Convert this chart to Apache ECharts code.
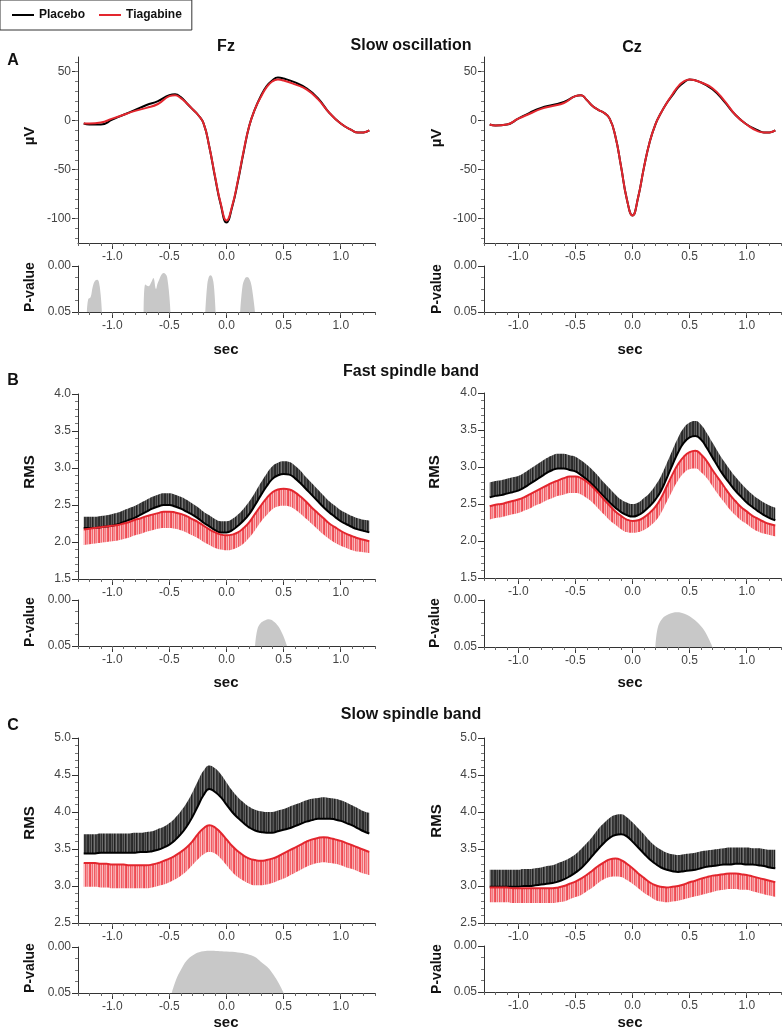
<!DOCTYPE html>
<html>
<head>
<meta charset="utf-8">
<script src="https://cdn.jsdelivr.net/npm/echarts@6/dist/echarts.min.js"></script>
<style>
html,body{margin:0;padding:0;background:#fff}
#chart{width:784px;height:1031px}
</style>
</head>
<body>
<div id="chart"></div>
<script>
// time axis (sec)
var xsSO = [-1.25,-1.2,-1.1,-1.0,-0.9,-0.8,-0.7,-0.6,-0.5,-0.45,-0.4,-0.35,-0.3,-0.25,-0.2,-0.15,-0.1,-0.05,0,0.05,0.1,0.15,0.2,0.25,0.3,0.35,0.4,0.45,0.5,0.6,0.7,0.8,0.9,1.0,1.1,1.15,1.2,1.25];
var xsRms = [-1.25,-1.2,-1.15,-1.1,-1.05,-1.0,-0.95,-0.9,-0.85,-0.8,
             -0.75,-0.7,-0.65,-0.6,-0.55,-0.5,-0.45,-0.4,-0.35,-0.3,
             -0.25,-0.2,-0.15,-0.1,-0.05,0,0.05,0.1,0.15,0.2,
             0.25,0.3,0.35,0.4,0.45,0.5,0.55,0.6,0.65,0.7,
             0.75,0.8,0.85,0.9,0.95,1.0,1.05,1.1,1.15,1.2,
             1.25];

// A: slow oscillation (uV)
var soFzPlacebo = [-3,-4,-4,1,6,11,16,20,26,27,24,18,12,6,-3,-27,-58,-86,-104,-88,-62,-32,-5,12,25,35,41,44,43,39,33,23,8,-3,-10,-12,-12,-10];
var soFzTiag    = [-3,-3,-2,2,6,10,13,17,25,26,23,18,12,6,-3,-27,-57,-85,-102,-87,-61,-31,-5,12,24,34,40,42,41,37,32,22,8,-3,-10,-12,-12,-10];
var soCzPlacebo = [-4,-5,-4,2,8,13,16,19,25,26,21,15,11,8,2,-16,-47,-80,-97,-78,-48,-22,-4,8,18,26,34,39,42,39,32,20,6,-4,-10,-12,-12,-10];
var soCzTiag    = [-4,-5,-4,2,7,12,15,18,25,26,21,15,11,8,2,-16,-47,-80,-97,-78,-48,-22,-4,8,18,27,35,40,42,39,33,21,6,-4,-11,-12,-12,-10];

// B: fast spindle RMS (mean, placebo upper SEM, tiagabine lower SEM)
var fsFzPlacebo = [2.19,2.19,2.19,2.20,2.21,2.22,2.24,2.27,2.30,2.33,
                   2.37,2.41,2.45,2.48,2.50,2.50,2.48,2.45,2.41,2.37,
                   2.32,2.26,2.21,2.16,2.13,2.13,2.16,2.22,2.29,2.38,
                   2.50,2.63,2.75,2.85,2.90,2.92,2.91,2.86,2.79,2.71,
                   2.63,2.55,2.47,2.40,2.34,2.28,2.24,2.20,2.17,2.15,
                   2.13];
var fsFzPlaceboHi = [2.34,2.34,2.34,2.35,2.36,2.38,2.40,2.43,2.46,2.49,
                     2.53,2.57,2.61,2.64,2.66,2.66,2.64,2.61,2.57,2.52,
                     2.47,2.41,2.36,2.31,2.28,2.28,2.31,2.37,2.45,2.55,
                     2.67,2.80,2.92,3.02,3.07,3.09,3.08,3.03,2.96,2.87,
                     2.79,2.71,2.63,2.55,2.49,2.43,2.39,2.35,2.32,2.30,
                     2.29];
var fsFzTiag = [2.17,2.18,2.19,2.20,2.21,2.22,2.23,2.25,2.27,2.30,
                2.32,2.35,2.37,2.39,2.41,2.41,2.40,2.38,2.35,2.31,
                2.27,2.22,2.17,2.13,2.10,2.09,2.10,2.13,2.19,2.27,
                2.38,2.49,2.59,2.67,2.71,2.72,2.71,2.67,2.61,2.54,
                2.46,2.39,2.32,2.25,2.20,2.15,2.11,2.08,2.05,2.03,
                2.01];
var fsFzTiagLo = [1.96,1.97,1.98,1.99,2.00,2.01,2.02,2.04,2.06,2.09,
                  2.11,2.14,2.16,2.18,2.19,2.19,2.18,2.16,2.13,2.09,
                  2.05,2.00,1.96,1.92,1.90,1.89,1.90,1.93,1.98,2.06,
                  2.16,2.27,2.36,2.44,2.48,2.49,2.48,2.44,2.38,2.31,
                  2.24,2.17,2.10,2.04,1.99,1.95,1.92,1.89,1.87,1.86,
                  1.85];
var fsCzPlacebo = [2.59,2.61,2.62,2.64,2.66,2.68,2.72,2.77,2.82,2.87,
                   2.92,2.96,2.98,2.98,2.96,2.94,2.89,2.83,2.76,2.68,
                   2.60,2.52,2.45,2.39,2.35,2.33,2.35,2.40,2.47,2.56,
                   2.68,2.85,3.03,3.20,3.33,3.40,3.42,3.37,3.26,3.13,
                   3.00,2.88,2.78,2.68,2.60,2.52,2.46,2.40,2.35,2.31,
                   2.28];
var fsCzPlaceboHi = [2.79,2.81,2.82,2.84,2.86,2.88,2.92,2.97,3.02,3.07,
                     3.12,3.16,3.18,3.18,3.16,3.14,3.09,3.03,2.96,2.88,
                     2.79,2.71,2.63,2.56,2.52,2.50,2.52,2.58,2.65,2.75,
                     2.88,3.05,3.23,3.40,3.53,3.60,3.62,3.57,3.46,3.33,
                     3.20,3.08,2.97,2.87,2.78,2.70,2.63,2.57,2.52,2.48,
                     2.45];
var fsCzTiag = [2.47,2.49,2.50,2.52,2.54,2.56,2.59,2.63,2.67,2.71,
                2.75,2.79,2.82,2.85,2.87,2.87,2.85,2.80,2.73,2.65,
                2.56,2.48,2.40,2.34,2.29,2.27,2.28,2.32,2.38,2.46,
                2.58,2.74,2.90,3.04,3.14,3.20,3.22,3.17,3.08,2.96,
                2.85,2.74,2.63,2.54,2.46,2.40,2.34,2.30,2.26,2.23,
                2.21];
var fsCzTiagLo = [2.29,2.31,2.32,2.34,2.36,2.38,2.41,2.44,2.48,2.51,
                  2.55,2.58,2.61,2.63,2.65,2.65,2.63,2.58,2.52,2.44,
                  2.36,2.28,2.22,2.16,2.12,2.11,2.12,2.15,2.20,2.27,
                  2.38,2.53,2.68,2.82,2.92,2.97,2.98,2.93,2.85,2.74,
                  2.63,2.53,2.43,2.35,2.28,2.23,2.17,2.13,2.10,2.08,
                  2.06];

// C: slow spindle RMS
var ssFzPlacebo = [3.44,3.44,3.44,3.45,3.45,3.45,3.45,3.45,3.45,3.45,
                   3.46,3.46,3.47,3.49,3.52,3.56,3.62,3.70,3.80,3.93,
                   4.08,4.23,4.31,4.27,4.20,4.10,4.00,3.92,3.85,3.79,
                   3.75,3.73,3.72,3.72,3.74,3.76,3.78,3.81,3.84,3.87,
                   3.89,3.91,3.91,3.91,3.90,3.88,3.85,3.82,3.78,3.74,
                   3.71];
var ssFzPlaceboHi = [3.70,3.70,3.70,3.71,3.71,3.71,3.71,3.71,3.71,3.72,
                     3.72,3.73,3.74,3.77,3.80,3.85,3.92,4.01,4.12,4.26,
                     4.42,4.56,4.63,4.59,4.51,4.40,4.29,4.20,4.13,4.07,
                     4.03,4.01,4.00,4.00,4.02,4.04,4.07,4.10,4.13,4.16,
                     4.18,4.19,4.20,4.19,4.18,4.16,4.13,4.09,4.05,4.01,
                     3.99];
var ssFzTiag = [3.31,3.31,3.31,3.30,3.30,3.29,3.29,3.29,3.28,3.28,
                3.28,3.28,3.29,3.31,3.34,3.37,3.41,3.46,3.52,3.60,
                3.70,3.78,3.82,3.79,3.72,3.63,3.54,3.47,3.41,3.37,
                3.35,3.34,3.35,3.37,3.40,3.44,3.48,3.52,3.56,3.60,
                3.63,3.65,3.66,3.65,3.63,3.61,3.58,3.55,3.52,3.49,
                3.46];
var ssFzTiagLo = [2.99,2.99,2.99,2.98,2.98,2.97,2.97,2.97,2.97,2.97,
                  2.97,2.97,2.98,3.00,3.02,3.05,3.09,3.14,3.20,3.28,
                  3.36,3.43,3.46,3.44,3.37,3.28,3.19,3.12,3.07,3.03,
                  3.01,3.01,3.02,3.04,3.07,3.10,3.14,3.18,3.22,3.26,
                  3.29,3.31,3.32,3.31,3.30,3.28,3.25,3.23,3.20,3.17,
                  3.15];
var ssCzPlacebo = [2.99,2.99,2.99,2.99,2.99,2.99,3.00,3.00,3.01,3.02,
                   3.03,3.04,3.06,3.09,3.13,3.18,3.24,3.32,3.41,3.50,
                   3.58,3.65,3.69,3.70,3.67,3.60,3.52,3.44,3.36,3.30,
                   3.25,3.22,3.20,3.19,3.20,3.21,3.22,3.24,3.26,3.27,
                   3.28,3.29,3.29,3.30,3.30,3.29,3.29,3.28,3.27,3.25,
                   3.24];
var ssCzPlaceboHi = [3.22,3.22,3.22,3.22,3.22,3.22,3.23,3.23,3.24,3.25,
                     3.27,3.28,3.31,3.34,3.38,3.43,3.50,3.58,3.67,3.77,
                     3.85,3.92,3.96,3.97,3.93,3.86,3.78,3.70,3.61,3.54,
                     3.49,3.45,3.43,3.42,3.43,3.44,3.45,3.47,3.48,3.49,
                     3.50,3.51,3.52,3.52,3.52,3.52,3.51,3.51,3.50,3.49,
                     3.49];
var ssCzTiag = [2.98,2.98,2.98,2.98,2.97,2.97,2.97,2.97,2.97,2.97,
                2.97,2.97,2.98,3.00,3.03,3.06,3.10,3.15,3.21,3.27,
                3.32,3.36,3.37,3.35,3.30,3.24,3.17,3.11,3.05,3.01,
                2.99,2.98,2.99,3.00,3.02,3.05,3.07,3.10,3.12,3.14,
                3.15,3.16,3.17,3.17,3.16,3.15,3.13,3.11,3.09,3.07,
                3.05];
var ssCzTiagLo = [2.78,2.78,2.78,2.78,2.77,2.77,2.77,2.77,2.77,2.77,
                  2.77,2.77,2.78,2.79,2.82,2.85,2.88,2.93,2.98,3.04,
                  3.09,3.12,3.13,3.12,3.08,3.03,2.97,2.91,2.86,2.81,
                  2.79,2.78,2.79,2.80,2.82,2.84,2.86,2.88,2.90,2.92,
                  2.94,2.95,2.96,2.96,2.95,2.95,2.93,2.91,2.89,2.87,
                  2.85];

// p-value clusters, [sec, p]
var pSoFz = [
  [[-1.222,0.05],[-1.21,0.036],[-1.19,0.034],[-1.17,0.022],[-1.15,0.016],[-1.13,0.015],[-1.11,0.022],[-1.09,0.05]],
  [[-0.725,0.05],[-0.711,0.02],[-0.682,0.022],[-0.66,0.018],[-0.64,0.013],[-0.617,0.025],[-0.6,0.018],[-0.55,0.0076],[-0.52,0.012],[-0.49,0.05]],
  [[-0.185,0.05],[-0.17,0.022],[-0.155,0.012],[-0.14,0.01],[-0.125,0.012],[-0.11,0.022],[-0.095,0.05]],
  [[0.12,0.05],[0.14,0.022],[0.16,0.014],[0.18,0.012],[0.2,0.014],[0.22,0.022],[0.25,0.05]]
];
var pSoCz = [];
var pFsFz = [
  [[0.25,0.05],[0.27,0.032],[0.3,0.025],[0.34,0.022],[0.37,0.021],[0.41,0.023],[0.45,0.028],[0.49,0.037],[0.53,0.05]]
];
var pFsCz = [
  [[0.2,0.05],[0.22,0.03],[0.26,0.02],[0.32,0.015],[0.39,0.013],[0.46,0.015],[0.53,0.02],[0.6,0.028],[0.65,0.037],[0.7,0.05]]
];
var pSsFz = [
  [[-0.48,0.05],[-0.44,0.035],[-0.4,0.025],[-0.35,0.015],[-0.29,0.0087],[-0.22,0.005],[-0.15,0.004],[0,0.005],[0.1,0.006],[0.18,0.0076],[0.25,0.011],[0.3,0.016],[0.36,0.022],[0.41,0.03],[0.46,0.04],[0.5,0.05]]
];
var pSsCz = [];

// ticks
var xMajorTicks = [-1.0,-0.5,0,0.5,1.0];
var xMinorTicks = [-1.3,-1.2,-1.1,-1.0,-0.9,-0.8,-0.7,-0.6,-0.5,-0.4,-0.3,-0.2,-0.1,0,0.1,0.2,0.3,0.4,0.5,0.6,0.7,0.8,0.9,1.0,1.1,1.2,1.3];
var soMajorTicks = [-100,-50,0,50];
var soMinorTicks = [-120,-110,-100,-90,-80,-70,-60,-50,-40,-30,-20,-10,0,10,20,30,40,50,60];
var fsMajorTicks = [1.5,2.0,2.5,3.0,3.5,4.0];
var fsMinorTicks = [1.6,1.7,1.8,1.9,2.1,2.2,2.3,2.4,2.6,2.7,2.8,2.9,3.1,3.2,3.3,3.4,3.6,3.7,3.8,3.9];
var ssMajorTicks = [2.5,3.0,3.5,4.0,4.5,5.0];
var ssMinorTicks = [2.6,2.7,2.8,2.9,3.1,3.2,3.3,3.4,3.6,3.7,3.8,3.9,4.1,4.2,4.3,4.4,4.6,4.7,4.8,4.9];
var pMajorTicks = [0,0.05];
var pMinorTicks = [0.0125,0.025,0.0375];

var FONT = "'Liberation Sans',Arial,sans-serif";

function stripes(cols) {
    var c = document.createElement('canvas');
    c.width = cols.length; c.height = 4;
    var g = c.getContext('2d');
    cols.forEach(function (col, i) { g.fillStyle = col; g.fillRect(i, 0, 1, 4); });
    return c;
}
var blackFill = {image: stripes(['#2a2a2a','#5a5a5a','#333','#6a6a6a','#222','#4a4a4a','#777','#333','#3c3c3c','#555','#2e2e2e']), repeat: 'repeat'};
var redFill = {image: stripes(['#ee4a52','#f8a8ac','#f26a71','#fbc0c3','#ef5a61','#f79298','#f47c82','#f9b4b8','#f0585f']), repeat: 'repeat'};

var panels = [
    {left:78,  top:57,  h:186, pTop:266, pH:46, kind:'so', xs:xsSO, plc:soFzPlacebo, tia:soFzTiag, pv:pSoFz},
    {left:484, top:57,  h:186, pTop:266, pH:46, kind:'so', xs:xsSO, plc:soCzPlacebo, tia:soCzTiag, pv:pSoCz},
    {left:78,  top:394, h:185, pTop:600, pH:46, kind:'fs', xs:xsRms, plc:fsFzPlacebo, hi:fsFzPlaceboHi, tia:fsFzTiag, lo:fsFzTiagLo, pv:pFsFz},
    {left:484, top:393, h:185, pTop:600, pH:47, kind:'fs', xs:xsRms, plc:fsCzPlacebo, hi:fsCzPlaceboHi, tia:fsCzTiag, lo:fsCzTiagLo, pv:pFsCz},
    {left:78,  top:738, h:185, pTop:947, pH:46, kind:'ss', xs:xsRms, plc:ssFzPlacebo, hi:ssFzPlaceboHi, tia:ssFzTiag, lo:ssFzTiagLo, pv:pSsFz},
    {left:484, top:738, h:185, pTop:946, pH:46, kind:'ss', xs:xsRms, plc:ssCzPlacebo, hi:ssCzPlaceboHi, tia:ssCzTiag, lo:ssCzTiagLo, pv:pSsCz}
];

var yRange = {
    so: {min:-125, max:65, major:soMajorTicks, minor:soMinorTicks, fmt:function (v) { return String(v); }},
    fs: {min:1.5, max:4.0, major:fsMajorTicks, minor:fsMinorTicks, fmt:function (v) { return v.toFixed(1); }},
    ss: {min:2.5, max:5.0, major:ssMajorTicks, minor:ssMinorTicks, fmt:function (v) { return v.toFixed(1); }},
    p:  {min:0, max:0.05, major:pMajorTicks, minor:pMinorTicks, fmt:function (v) { return v.toFixed(2); }, inverse:true}
};

var grids = [], xAxes = [], yAxes = [], series = [];
var axisCol = '#333', labelCol = '#444';

function addGrid(left, top, h, r) {
    var gi = grids.length;
    grids.push({left:left, top:top, width:297, height:h});
    var xi = xAxes.length, yi = yAxes.length;
    xAxes.push({
        type:'value', gridIndex:gi, position:'bottom', min:-1.3, max:1.3, z:10,
        axisLine:{onZero:false, lineStyle:{color:axisCol, width:1}},
        axisTick:{customValues:xMajorTicks, length:6, lineStyle:{color:axisCol}},
        axisLabel:{customValues:xMajorTicks, formatter:function (v) { return v.toFixed(1); },
            color:labelCol, fontSize:12, fontFamily:FONT, margin:8},
        splitLine:{show:false}
    });
    xAxes.push({
        type:'value', gridIndex:gi, position:'bottom', min:-1.3, max:1.3, z:10,
        axisLine:{show:false, onZero:false},
        axisTick:{customValues:xMinorTicks, length:3, lineStyle:{color:'#666'}},
        axisLabel:{show:false}, splitLine:{show:false}
    });
    yAxes.push({
        type:'value', gridIndex:gi, position:'left', min:r.min, max:r.max, inverse:!!r.inverse, z:10,
        axisLine:{show:true, onZero:false, lineStyle:{color:axisCol, width:1}},
        axisTick:{show:true, customValues:r.major, length:6, lineStyle:{color:axisCol}},
        axisLabel:{customValues:r.major, formatter:r.fmt, color:labelCol, fontSize:12, fontFamily:FONT, margin:7},
        splitLine:{show:false}
    });
    yAxes.push({
        type:'value', gridIndex:gi, position:'left', min:r.min, max:r.max, inverse:!!r.inverse, z:10,
        axisLine:{show:false, onZero:false},
        axisTick:{show:true, customValues:r.minor, length:3, lineStyle:{color:'#777'}},
        axisLabel:{show:false}, splitLine:{show:false}
    });
    return {x:xi, y:yi};
}

function pairs(xs, ys) {
    return xs.map(function (x, i) { return [x, ys[i]]; });
}
// value first, time second: the stack is then taken on the value dimension
function rows(xs, ys) {
    return xs.map(function (x, i) { return [ys[i], x]; });
}
function diff(a, b) {
    return a.map(function (v, i) { return +(v - b[i]).toFixed(3); });
}

panels.forEach(function (p, k) {
    var ax = addGrid(p.left, p.top, p.h, yRange[p.kind]);
    var base = {type:'line', xAxisIndex:ax.x, yAxisIndex:ax.y, smooth:0.5,
        symbol:'none', silent:true, animation:false};
    if (p.kind !== 'so') {
        // SEM bands: placebo above its mean, tiagabine below its mean
        var band = Object.assign({}, base, {name:'band', encode:{x:1, y:0}, lineStyle:{width:0}});
        series.push(Object.assign({}, band, {stack:'pb' + k, data:rows(p.xs, p.plc), z:1}));
        series.push(Object.assign({}, band, {stack:'pb' + k, data:rows(p.xs, diff(p.hi, p.plc)), z:1,
            areaStyle:{color:blackFill, opacity:1}}));
        series.push(Object.assign({}, band, {stack:'pr' + k, data:rows(p.xs, p.lo), z:2}));
        series.push(Object.assign({}, band, {stack:'pr' + k, data:rows(p.xs, diff(p.tia, p.lo)), z:2,
            areaStyle:{color:redFill, opacity:1}}));
    }
    series.push(Object.assign({}, base, {name:'Placebo', data:pairs(p.xs, p.plc), lineStyle:{color:'#000', width:2}, itemStyle:{color:'#000'}, z:5}));
    series.push(Object.assign({}, base, {name:'Tiagabine', data:pairs(p.xs, p.tia), lineStyle:{color:'#e3262e', width:2}, itemStyle:{color:'#e3262e'}, z:6}));

    var axp = addGrid(p.left, p.pTop, p.pH, yRange.p);
    p.pv.forEach(function (cluster) {
        series.push({type:'line', xAxisIndex:axp.x, yAxisIndex:axp.y, smooth:0.4, symbol:'none', silent:true, animation:false,
            data:cluster, lineStyle:{width:0}, areaStyle:{color:'#c8c8c8', opacity:1, origin:'end'}});
    });
});

function label(text, x, y, size, rot) {
    return {type:'text', x:x, y:y, rotation:rot ? Math.PI / 2 : 0, silent:true,
        style:{text:text, textAlign:'center', textVerticalAlign:'middle', fill:'#111',
            font:'bold ' + size + 'px ' + FONT}};
}

var texts = [
    label('A', 13, 61, 16), label('B', 13, 381, 16), label('C', 13, 726, 16),
    label('Fz', 226, 47, 16), label('Cz', 632, 48, 16),
    label('Slow oscillation', 411, 46, 16),
    label('Fast spindle band', 411, 372, 16),
    label('Slow spindle band', 411, 715, 16),
    label('\u00b5V', 30, 136, 15, true), label('\u00b5V', 437, 138, 15, true),
    label('P-value', 30, 287, 14, true), label('P-value', 437, 289, 14, true),
    label('RMS', 30, 472, 15, true), label('RMS', 435, 472, 15, true),
    label('P-value', 30, 622, 14, true), label('P-value', 435, 623, 14, true),
    label('RMS', 30, 823, 15, true), label('RMS', 437, 821, 15, true),
    label('P-value', 30, 968, 14, true), label('P-value', 437, 969, 14, true),
    label('sec', 226, 350, 15), label('sec', 630, 350, 15),
    label('sec', 226, 683, 15), label('sec', 630, 683, 15),
    label('sec', 226, 1023, 15), label('sec', 630, 1023, 15)
];

var chart = echarts.init(document.getElementById('chart'));
chart.setOption({
    animation:false,
    backgroundColor:'#fff',
    legend:{
        data:['Placebo','Tiagabine'], left:0, top:0, icon:'rect',
        borderColor:'#333', borderWidth:1, borderRadius:0,
        padding:[9,10,9,12], itemWidth:22, itemHeight:2, itemGap:14,
        textStyle:{fontWeight:'bold', fontSize:12, fontFamily:FONT, color:'#111'}
    },
    grid:grids,
    xAxis:xAxes,
    yAxis:yAxes,
    series:series,
    graphic:texts
});
</script>
</body>
</html>
